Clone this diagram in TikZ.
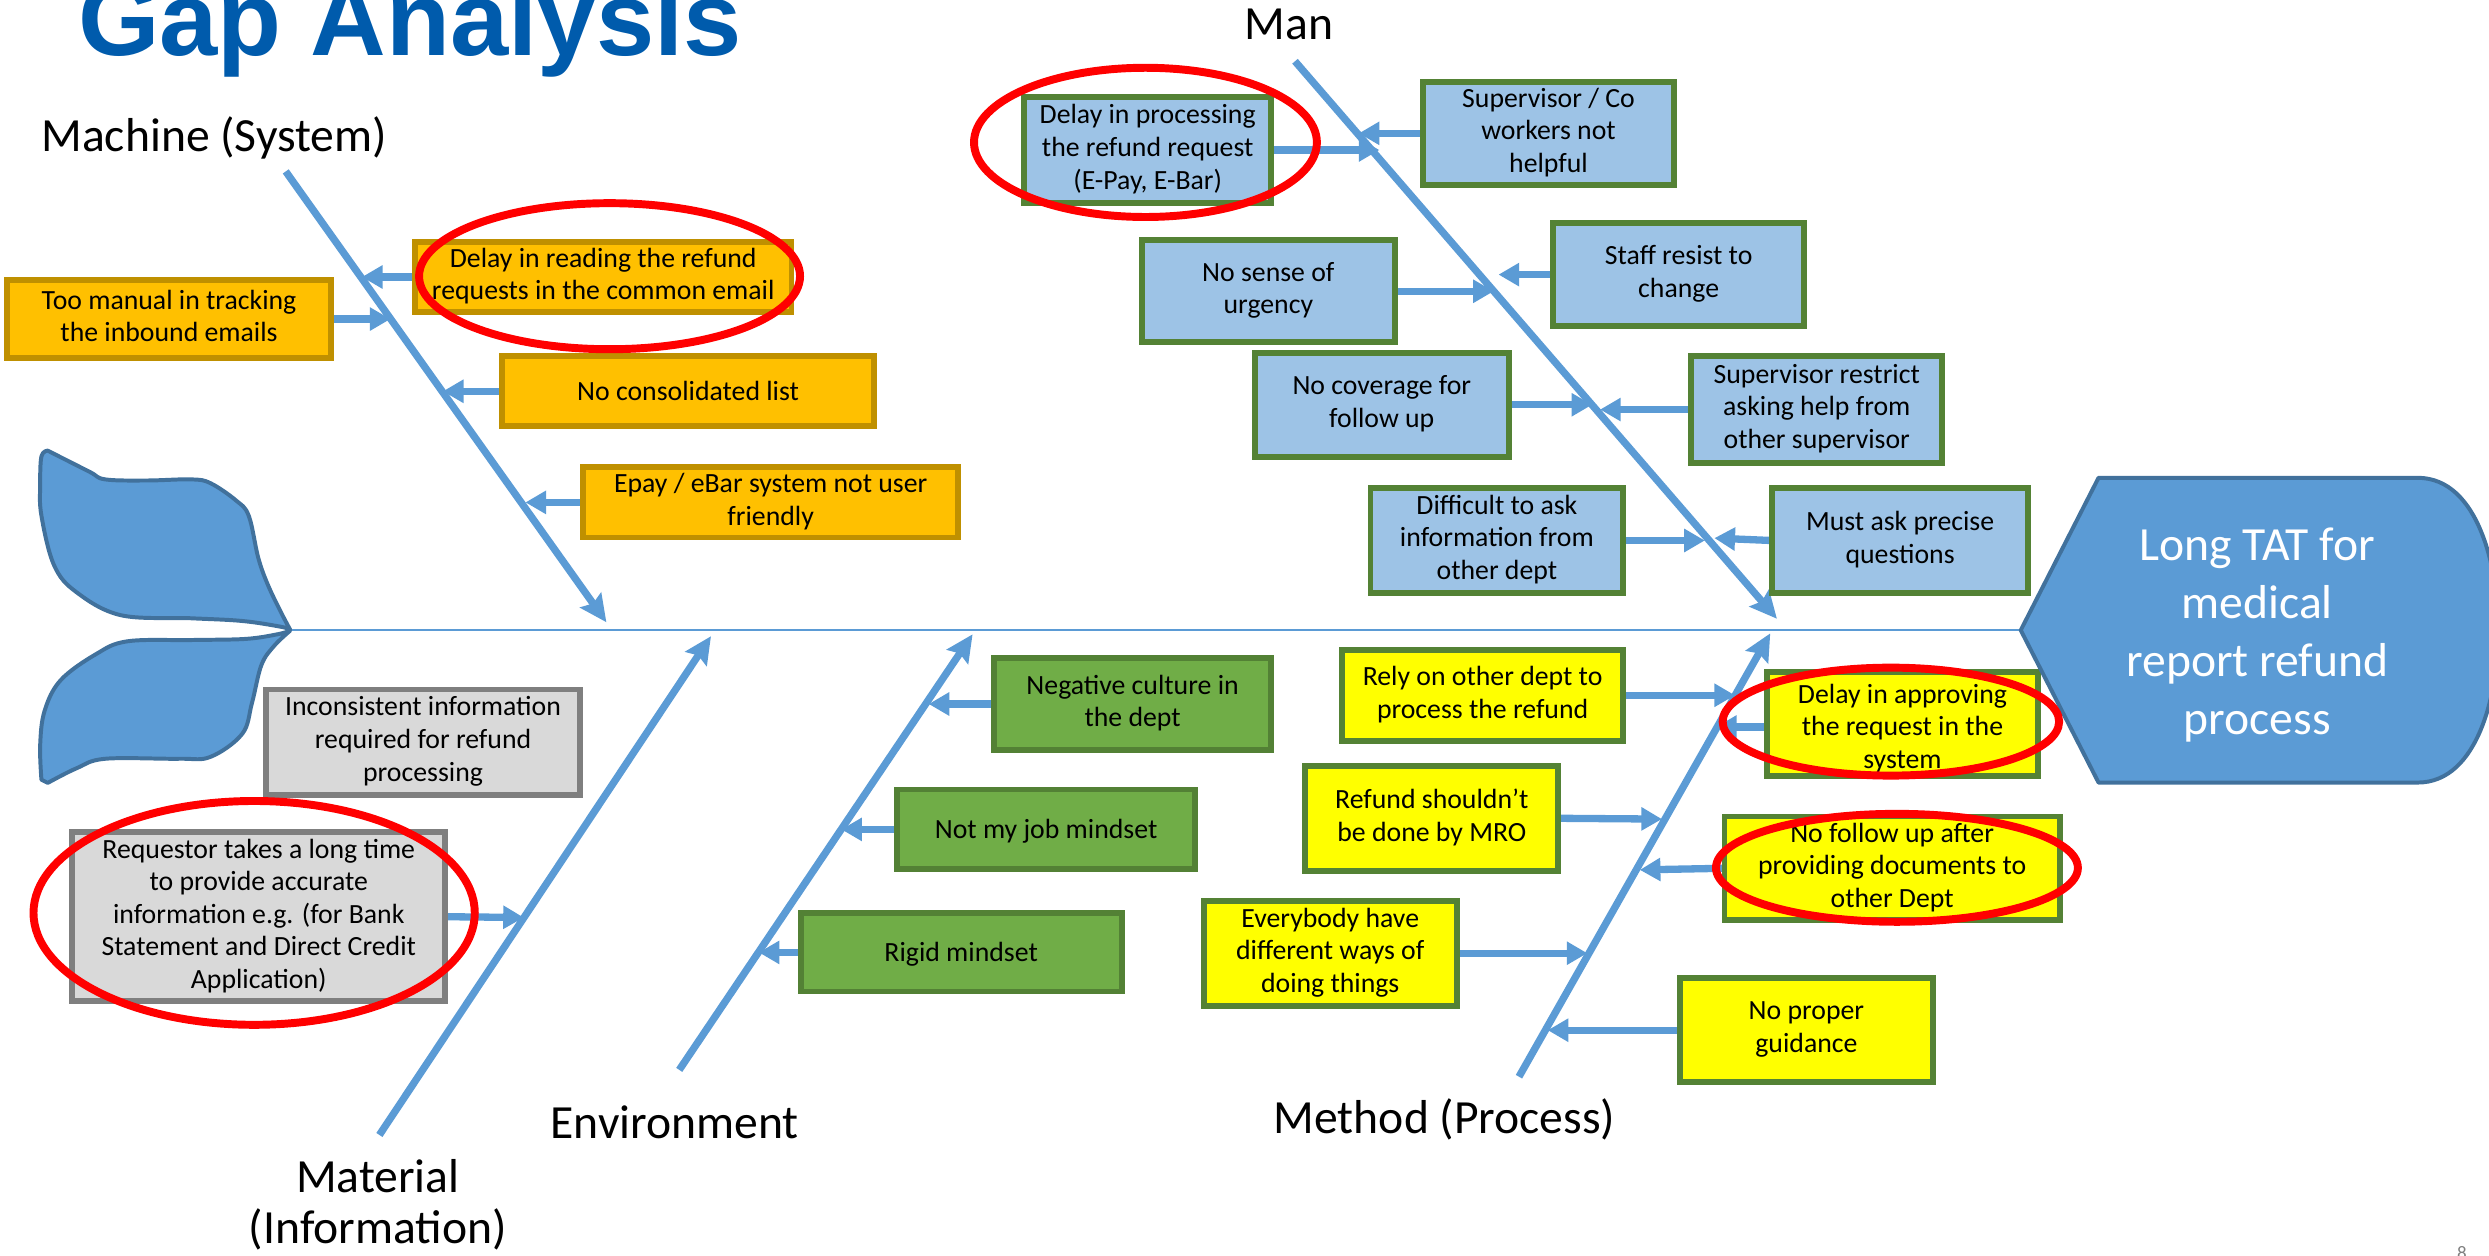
\documentclass[tikz,border=0pt]{standalone}
\usepackage{fontspec}
\setmainfont{Carlito}
\newfontfamily\titlefont{Liberation Sans}
\usetikzlibrary{arrows.meta}
\definecolor{bone}{HTML}{5B9BD5}
\definecolor{headline}{HTML}{41719C}
\definecolor{machfill}{HTML}{FFC000}
\definecolor{machline}{HTML}{BF9000}
\definecolor{manfill}{HTML}{9DC3E6}
\definecolor{grline}{HTML}{548235}
\definecolor{envfill}{HTML}{70AD47}
\definecolor{envline}{HTML}{538135}
\definecolor{matfill}{HTML}{D9D9D9}
\definecolor{matline}{HTML}{7F7F7F}
\definecolor{metfill}{HTML}{FFFF00}
\definecolor{titleblue}{HTML}{005BAC}
\definecolor{ringred}{HTML}{FF0000}
\begin{document}
\begin{tikzpicture}[x=1pt,y=-1pt,
  bonel/.style={draw=bone, line width=4.6pt, -{Stealth[length=17pt,width=16pt,inset=2.5pt]}},
  sarr/.style={draw=bone, line width=4.6pt, -{Triangle[length=13pt,width=14pt]}},
  boxtext/.style={align=center, inner sep=0pt, font=\fontsize{17.5}{20.5}\selectfont,
    execute at begin node={\rule{0pt}{16pt}}, execute at end node={\rule[-4pt]{0pt}{4pt}}},
  boxbase/.style={boxtext, draw, line width=2.5pt},
  mbox/.style={boxbase, fill=machfill, draw=machline},
  abox/.style={boxbase, fill=manfill, draw=grline},
  ebox/.style={boxbase, fill=envfill, draw=envline},
  tbox/.style={boxbase, fill=matfill, draw=matline},
  pbox/.style={boxbase, fill=metfill, draw=grline},
  redring/.style={draw=ringred, line width=5pt},
  cat/.style={font=\fontsize{30}{32.5}\selectfont, align=center, inner sep=0pt},
  lobe/.style={fill=bone, draw=headline, line width=2.5pt, line join=round}
]
\useasboundingbox (0,0) rectangle (1568,791);
\clip (0,0) rectangle (1568,791);

% title
\node[anchor=base west, inner sep=0pt, text=titleblue, font=\titlefont\bfseries\fontsize{66}{66}\selectfont] (title) at (49,35) {Gap Analysis};

% spine
\coordinate (tailtip) at (183,397);
\coordinate (headtip) at (1273,397);
\draw[bone, line width=1.5pt] (tailtip) -- (headtip);

% bones
\coordinate (macS) at (180,108);   \coordinate (macE) at (382,392);
\coordinate (manS) at (815.8,38.6); \coordinate (manE) at (1119.4,389.8);
\coordinate (matS) at (239,715);   \coordinate (matE) at (447.9,400.8);
\coordinate (envS) at (427.9,674); \coordinate (envE) at (612.7,399.6);
\coordinate (metS) at (956.9,678.3); \coordinate (metE) at (1115.2,399);
\draw[bonel] (macS) -- (macE);
\draw[bonel] (manS) -- (manE);
\draw[bonel] (matS) -- (matE);
\draw[bonel] (envS) -- (envE);
\draw[bonel] (metS) -- (metE);

% bone attachment points
\coordinate (bm1) at (228,174.5);
\coordinate (bm2) at (246,201);
\coordinate (bm3) at (279,246.5);
\coordinate (bm4) at (331,316.5);
\coordinate (ba1) at (869,94.5);
\coordinate (ba2) at (856,84);
\coordinate (ba3) at (941,183.5);
\coordinate (ba4) at (944,173);
\coordinate (ba5) at (1003,255);
\coordinate (ba6) at (1008,258);
\coordinate (ba7) at (1074,340.5);
\coordinate (ba8) at (1080,339);
\coordinate (be1) at (585,443.5);
\coordinate (be2) at (530,522.5);
\coordinate (be3) at (478,600);
\coordinate (bt2) at (330,578);
\coordinate (bp1) at (1093,438);
\coordinate (bp2) at (1081,458);
\coordinate (bp3) at (1047,516);
\coordinate (bp4) at (1033,548);
\coordinate (bp5) at (1000,600.5);
\coordinate (bp6) at (975,649);

% boxes: machine
\node[mbox, minimum width=236pt, minimum height=43pt] (m1) at (380,174.5) {Delay in reading the refund\\requests in the common email};
\node[mbox, minimum width=203pt, minimum height=48pt] (m2) at (106.5,201) {Too manual in tracking\\the inbound emails};
\node[mbox, minimum width=233pt, minimum height=43pt] (m3) at (433.5,246.5) {No consolidated list};
\node[mbox, minimum width=235pt, minimum height=43pt] (m4) at (485.5,316.5) {Epay / eBar system not user\\friendly};

% boxes: man
\node[abox, minimum width=154pt, minimum height=65pt] (a1) at (723,94.5) {Delay in processing\\the refund request\\(E-Pay, E-Bar)};
\node[abox, minimum width=157pt, minimum height=64pt] (a2) at (975.5,84) {Supervisor / Co\\workers not\\helpful};
\node[abox, minimum width=158pt, minimum height=63pt] (a3) at (799,183.5) {No sense of\\urgency};
\node[abox, minimum width=157pt, minimum height=64pt] (a4) at (1057.5,173) {Staff resist to\\change};
\node[abox, minimum width=159pt, minimum height=64pt] (a5) at (870.5,255) {No coverage for\\follow up};
\node[abox, minimum width=157pt, minimum height=66pt] (a6) at (1144.5,258) {Supervisor restrict\\asking help from\\other supervisor};
\node[abox, minimum width=158pt, minimum height=65pt] (a7) at (943,340.5) {Difficult to ask\\information from\\other dept};
\node[abox, minimum width=160pt, minimum height=65pt] (a8) at (1197,340.5) {Must ask precise\\questions};

% boxes: environment
\node[ebox, minimum width=173pt, minimum height=57pt] (e1) at (713.5,443.5) {Negative culture in\\the dept};
\node[ebox, minimum width=186pt, minimum height=49pt] (e2) at (659,522.5) {Not my job mindset};
\node[ebox, minimum width=201pt, minimum height=48pt] (e3) at (605.5,600) {Rigid mindset};

% boxes: material
\node[tbox, minimum width=197pt, minimum height=65pt] (t1) at (266.5,467.5) {Inconsistent information\\required for refund\\processing};
\node[tbox, minimum width=234pt, minimum height=105pt] (t2) at (163,577.5) {Requestor takes a long time\\to provide accurate\\information e.g. (for Bank\\Statement and Direct Credit\\Application)};

% boxes: method
\node[pbox, minimum width=176pt, minimum height=56pt] (p1) at (934,438) {Rely on other dept to\\process the refund};
\node[pbox, minimum width=169pt, minimum height=64pt] (p2) at (1198.5,456) {};
\node[boxtext] (p2t) at (1198.5,459.5) {Delay in approving\\the request in the\\system};
\node[pbox, minimum width=158pt, minimum height=65pt] (p3) at (902,515.5) {Refund shouldn’t\\be done by MRO};
\node[pbox, minimum width=210pt, minimum height=64pt] (p4) at (1192,547) {No follow up after\\providing documents to\\other Dept};
\node[pbox, minimum width=158pt, minimum height=65pt] (p5) at (838,600.5) {Everybody have\\different ways of\\doing things};
\node[pbox, minimum width=158pt, minimum height=64pt] (p6) at (1138,649) {No proper\\guidance};

% small arrows
\draw[sarr] (m1.west) -- (bm1);
\draw[sarr] (m2.east) -- (bm2);
\draw[sarr] (m3.west) -- (bm3);
\draw[sarr] (m4.west) -- (bm4);
\draw[sarr] (a1.east) -- (ba1);
\draw[sarr] (a2.west) -- (ba2);
\draw[sarr] (a3.east) -- (ba3);
\draw[sarr] (a4.west) -- (ba4);
\draw[sarr] (a5.east) -- (ba5);
\draw[sarr] (a6.west) -- (ba6);
\draw[sarr] (a7.east) -- (ba7);
\draw[sarr] (a8.west) -- (ba8);
\draw[sarr] (e1.west) -- (be1);
\draw[sarr] (e2.west) -- (be2);
\draw[sarr] (e3.west) -- (be3);
\draw[sarr] (t2.east) -- (bt2);
\draw[sarr] (p1.east) -- (bp1);
\draw[sarr] ([yshift=-2pt]p2.west) -- (bp2);
\draw[sarr] (p3.east) -- (bp3);
\draw[sarr] (p4.west) -- (bp4);
\draw[sarr] (p5.east) -- (bp5);
\draw[sarr] (p6.west) -- (bp6);

% redraw box borders over arrow starts
\foreach \n in {m1,m2,m3,m4} \draw[machline, line width=2.5pt] (\n.north west) rectangle (\n.south east);
\foreach \n in {a1,a2,a3,a4,a5,a6,a7,a8,p1,p2,p3,p4,p5,p6} \draw[grline, line width=2.5pt] (\n.north west) rectangle (\n.south east);
\foreach \n in {e1,e2,e3} \draw[envline, line width=2.5pt] (\n.north west) rectangle (\n.south east);
\foreach \n in {t1,t2} \draw[matline, line width=2.5pt] (\n.north west) rectangle (\n.south east);

% head
\filldraw[fill=bone, draw=headline, line width=2.5pt, line join=round]
  (headtip) -- (1322,301) -- (1523,301)
  .. controls (1562,301) and (1574,360) .. (1574,397)
  .. controls (1574,434) and (1562,493) .. (1523,493)
  -- (1322,493) -- cycle;
\node[align=center, text=white, inner sep=0pt, font=\fontsize{30}{36.5}\selectfont] (headtext) at (1422,400) {Long TAT for\\medical\\report refund\\process};

% tail
\path[lobe] plot[smooth, tension=0.6] coordinates {(182.8,396.7) (176.7,385.1) (168.7,368.3) (162.7,351.4) (156.7,324.9) (148.6,315.2) (132.6,304.4) (120.5,302.0) (92.4,302.7) (66.3,302.0) (56.2,297.1) (30.1,283.9)}
  -- plot[smooth, tension=0.6] coordinates {(30.1,283.9) (26.1,287.5) (25.3,305.6) (26.1,324.9) (34.1,356.2) (48.2,373.1) (76.3,387.6) (120.5,389.5) (152.6,391.2) (176.7,394.8) (182.8,396.7)} -- cycle;
\path[lobe] plot[smooth, tension=0.6] coordinates {(182.8,397.3) (172.7,406.9) (164.7,418.9) (158.7,443.0) (152.6,462.3) (132.6,476.8) (112.5,478.0) (66.3,478.0) (48.2,484.0) (30.1,493.2)}
  -- plot[smooth, tension=0.6] coordinates {(26.1,491.2) (25.3,469.5) (28.1,447.8) (38.2,428.5) (60.3,412.2) (80.3,404.0) (120.5,403.2) (154.7,402.5) (174.7,399.6) (182.8,397.3)} -- cycle;

% red rings
\draw[redring] (384,174) ellipse [x radius=120pt, y radius=46pt];
\draw[redring] (721.6,89.7) ellipse [x radius=108pt, y radius=47pt];
\draw[redring] (160.1,575.1) ellipse [x radius=139pt, y radius=70.5pt];
\draw[redring] (1191.2,454.6) ellipse [x radius=106pt, y radius=34pt];
\draw[redring] (1195,546.7) ellipse [x radius=114pt, y radius=34pt];

% category labels
\node[cat] (lmac) at (135,87) {Machine (System)};
\node[cat] (lman) at (812,15.5) {Man};
\node[cat] (lenv) at (425,707) {Environment};
\node[cat] (lmet) at (910,705) {Method (Process)};
\node[cat] (lmat) at (238,759) {Material\\(Information)};

% page number
\node[anchor=north, inner sep=0pt, text=gray, font=\fontsize{12}{12}\selectfont] (pg) at (1551,785) {8};
\end{tikzpicture}
\end{document}
